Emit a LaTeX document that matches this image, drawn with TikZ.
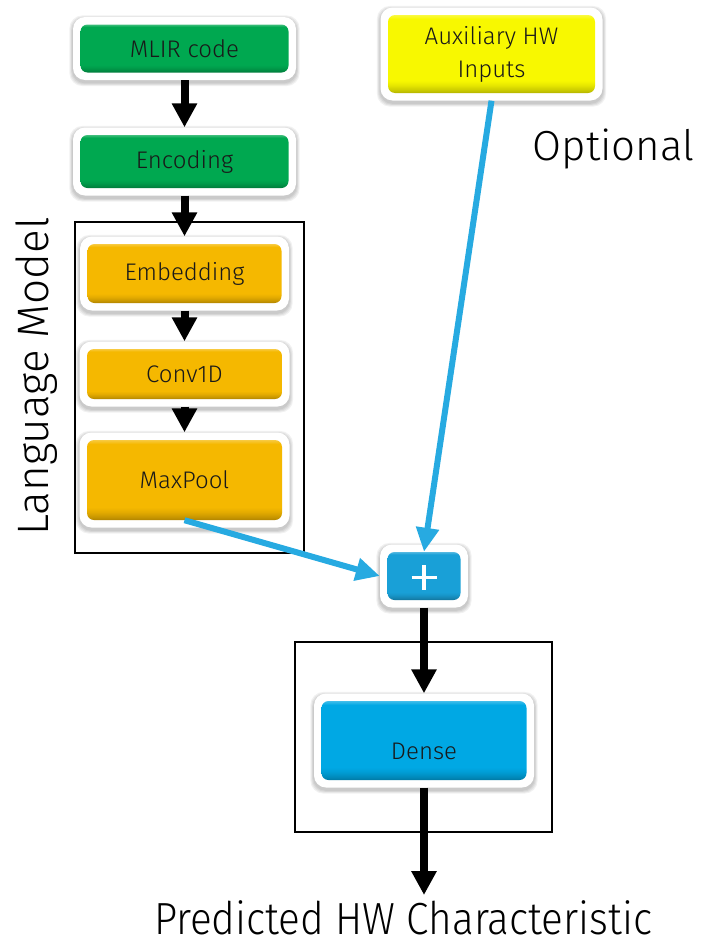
\documentclass[tikz,border=0pt]{standalone}
\usepackage{fontspec}
\setmainfont{Fira Sans Light}
\newfontfamily\narrowlight[FakeStretch=0.9]{Fira Sans Light}
\usetikzlibrary{arrows.meta}

\definecolor{cgreen}{RGB}{0,168,80}
\definecolor{camber}{RGB}{245,184,0}
\definecolor{cyellow}{RGB}{248,248,0}
\definecolor{cdense}{RGB}{0,168,228}
\definecolor{cplus}{RGB}{25,160,215}
\definecolor{cline}{RGB}{39,170,225}

% bevel: dark rim at the bottom, thin light edge on top
\colorlet{boxcol}{cgreen}
\pgfdeclareverticalshading[boxcol]{bevel}{100bp}{%
  color(0bp)=(boxcol!72!black); color(25bp)=(boxcol!72!black);
  color(27bp)=(boxcol!82!black); color(30bp)=(boxcol!93!black);
  color(33bp)=(boxcol); color(72.5bp)=(boxcol);
  color(75bp)=(boxcol!75!white); color(100bp)=(boxcol!75!white)}

\tikzset{
  halo/.style={fill=white, rounded corners=12pt, inner sep=0pt},
  haze/.style={fill=black, opacity=0.055, rounded corners=13pt},
  core/.style={rounded corners=7pt, inner sep=0pt, align=center, text=black!90,
    font=\fontsize{24}{33}\selectfont,
    /utils/exec={\colorlet{boxcol}{#1}}, shading=bevel},
  flow/.style={draw=black, line width=8pt, -{Triangle[width=24pt,length=24pt]}},
  feed/.style={draw=cline, line width=6pt, -{Triangle[width=22pt,length=24pt]}},
  frame/.style={draw=black, line width=2.5pt},
  biglabel/.style={inner sep=0pt, anchor=base}
}

% white-rimmed bevelled block: name, x, y, width, height, colour, text
\newcommand\hwbox[7]{%
  \foreach \g in {1,...,4}{%
    \fill[haze]
      ({#2-#4/2-7.5-\g*0.9},{#3-#5/2-7.5-\g*0.9+2})
      rectangle ({#2+#4/2+7.5+\g*0.9},{#3+#5/2+7.5+\g*0.9+2.5});
  }
  \node[halo, minimum width=#4pt+15pt, minimum height=#5pt+15pt] (#1) at (#2,#3) {};
  \node[core=#6, minimum width=#4pt, minimum height=#5pt] (#1-in) at (#2,#3) {#7};}

\begin{document}
\begin{tikzpicture}[x=1pt, y=-1pt]
  \fill[white] (0,0) rectangle (702,945);
  \useasboundingbox (0,0) rectangle (702,945);

  % grouping frames
  \draw[frame] (75,222) rectangle (304,553);
  \draw[frame] (295,642) rectangle (552,832);

  % blocks
  \hwbox{mlir}{184.5}{48.5}{208}{48}{cgreen}{MLIR code}
  \hwbox{enc}{184.5}{161.5}{208}{53}{cgreen}{Encoding}
  \hwbox{emb}{184.5}{273.5}{194}{59}{camber}{Embedding}
  \hwbox{conv}{184.5}{374}{195}{50}{camber}{Conv1D}
  \hwbox{maxp}{184.5}{480}{195}{80}{camber}{MaxPool}
  \hwbox{aux}{491.5}{54}{207}{78}{cyellow}{Auxiliary HW\\Inputs}
  \hwbox{plus}{424}{576}{73}{48}{cplus}{}
  \hwbox{dense}{424}{740.5}{205}{79}{cdense}{\raisebox{-18.5pt}[0pt][0pt]{Dense}}

  % summation sign
  \draw[white, line width=3.5pt]
    ([xshift=-12.5pt, yshift=-1.5pt]plus-in.center) -- ([xshift=12.5pt, yshift=-1.5pt]plus-in.center);
  \draw[white, line width=3.5pt]
    ([yshift=11pt]plus-in.center) -- ([yshift=-14pt]plus-in.center);

  \coordinate (out) at (424,895);

  % data flow
  \draw[flow] (mlir) -- (enc);
  \draw[flow] (enc) -- (emb);
  \draw[flow] (emb) -- (conv);
  \draw[flow] (conv) -- (maxp);
  \draw[flow] (plus) -- (dense);
  \draw[flow] (dense) -- (out);

  \draw[feed] (aux.south) -- (plus-in.north);
  \draw[feed] (maxp-in.south) -- (plus.west);

  % labels
  \node[biglabel, rotate=90, font=\fontsize{44}{48}\selectfont] (lm) at (48,376.5) {Language Model};
  \node[biglabel, font=\fontsize{42}{46}\selectfont] (opt) at (613.5,160) {Optional};
  \node[biglabel, font=\narrowlight\fontsize{45}{49}\selectfont] (pred) at (403,934) {Predicted HW Characteristic};
\end{tikzpicture}
\end{document}
